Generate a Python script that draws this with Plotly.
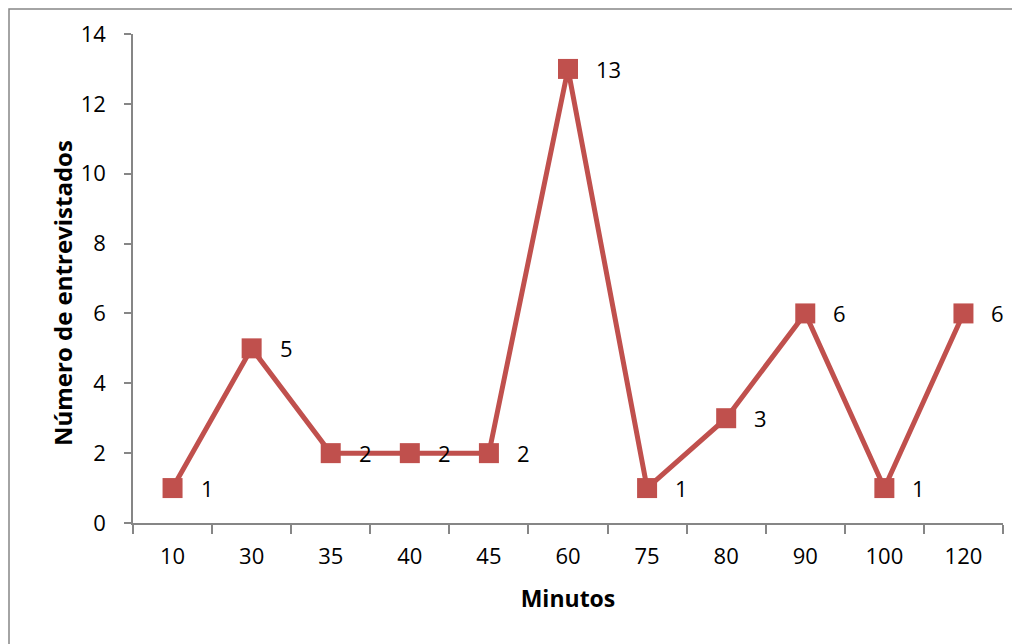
import plotly.graph_objects as go

minutos = ["10", "30", "35", "40", "45", "60", "75", "80", "90", "100", "120"]
entrevistados = [1, 5, 2, 2, 2, 13, 1, 3, 6, 1, 6]
y_ticks = [0, 2, 4, 6, 8, 10, 12, 14]

color = "#C0504D"
font_family = "'Open Sans', Lato, sans-serif"

fig = go.Figure()
fig.add_trace(go.Scatter(
    x=minutos, y=entrevistados, mode="lines+markers",
    line=dict(color=color, width=5),
    marker=dict(symbol="square", size=20, color=color),
    showlegend=False, hoverinfo="x+y",
))

for i, yv in enumerate(entrevistados):
    fig.add_annotation(x=i, y=yv, text=str(yv), showarrow=False,
                       xanchor="left", yanchor="middle", xshift=26,
                       font=dict(family=font_family, size=22, color="black"))

# y-axis title as rotated annotation (positioned like the reference)
fig.add_annotation(xref="paper", yref="paper", x=(54 - 125) / 870, y=(515 - 285) / 489,
                   text="<b>Número de entrevistados</b>", textangle=-90, showarrow=False,
                   xanchor="center", yanchor="middle",
                   font=dict(family=font_family, size=24, color="black"))

# page has an 8px body margin; margins below are relative to the figure
fig.update_layout(
    width=1020, height=644,
    margin=dict(l=125, r=25, t=26, b=129, autoexpand=False),
    plot_bgcolor="white", paper_bgcolor="white",
    font=dict(family=font_family, size=22, color="black"),
    xaxis=dict(
        type="category", automargin=False, showgrid=False, showline=True,
        linecolor="#868686", linewidth=1.5, tickfont=dict(size=22),
        ticks="outside", tickson="boundaries", ticklen=9, tickcolor="#868686", tickwidth=1.5,
        ticklabelstandoff=13,
        title=dict(text="<b>Minutos</b>", font=dict(size=23), standoff=22),
        range=[-0.5, 10.5],
    ),
    yaxis=dict(
        range=[0, 14], tickvals=y_ticks, automargin=False, showgrid=False, zeroline=False,
        showline=True, linecolor="#868686", linewidth=1.5, tickfont=dict(size=22),
        ticks="outside", ticklen=7, tickcolor="#868686", tickwidth=1.5,
        ticklabelstandoff=14,
    ),
)

fig.add_shape(type="rect", xref="paper", yref="paper",
              x0=(1 - 125) / 870, x1=1.1, y0=-0.4, y1=(515 - 1) / 489,
              line=dict(color="#868686", width=1.5), fillcolor="rgba(0,0,0,0)", layer="below")

fig.write_html("out.html")
